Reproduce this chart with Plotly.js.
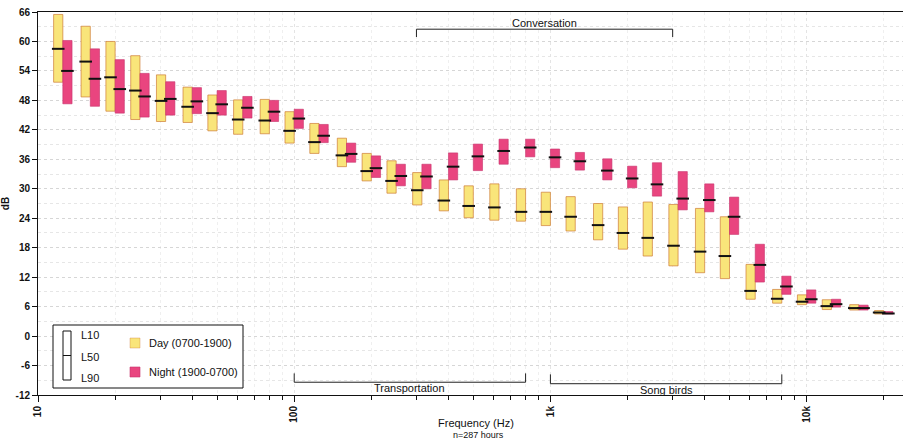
<!DOCTYPE html>
<html>
<head>
<meta charset="utf-8">
<script src="https://cdn.plot.ly/plotly-3.0.1.min.js"></script>
<style>html,body{margin:0;padding:0;background:#fff;}#chart{width:903px;height:441px;}</style>
</head>
<body>
<div id="chart"></div>
<script>
// 1/3-octave band centre frequencies (Hz)
const freqs = [12.5,16,20,25,31.5,40,50,63,80,100,125,160,200,250,315,400,500,630,800,1000,1250,1600,2000,2500,3150,4000,5000,6300,8000,10000,12500,16000,20000];

// Day (0700-1900)
const dayL10 = [65.5,63.1,60.0,57.1,53.2,50.7,49.1,48.1,48.2,45.7,43.3,40.3,37.2,35.7,33.3,31.8,30.6,31.0,30.0,29.3,28.4,27.0,26.3,27.3,26.8,26.0,24.3,14.6,9.5,8.4,7.4,6.4,5.2];
const dayL50 = [58.5,55.9,52.7,50.0,47.9,46.7,45.4,44.1,43.9,41.8,39.5,36.8,33.6,31.6,29.7,27.6,26.5,26.2,25.3,25.3,24.3,22.6,21.0,20.0,18.4,17.2,16.3,9.2,7.6,7.0,6.1,5.7,4.8];
const dayL90 = [51.7,48.7,45.8,44.1,43.7,43.5,41.8,41.1,41.2,39.3,37.2,34.5,31.6,29.1,26.7,25.5,24.1,23.6,23.4,22.5,21.4,19.6,17.7,16.3,14.3,12.9,11.7,7.5,6.7,6.4,5.4,5.3,4.5];

// Night (1900-0700)
const nightL10 = [60.2,58.5,56.3,53.5,51.8,50.6,50.0,48.8,48.0,46.2,43.1,39.3,36.7,35.0,35.0,37.3,39.1,40.1,40.1,38.1,37.4,36.1,34.6,35.3,33.5,31.0,28.3,18.7,12.2,9.4,7.5,6.3,5.0];
const nightL50 = [54.0,52.4,50.3,48.8,48.3,47.8,47.2,46.5,45.7,44.3,40.8,37.1,34.2,32.6,32.5,34.5,36.6,37.7,38.4,36.4,35.6,33.7,32.1,30.9,28.0,27.7,24.3,14.5,10.1,7.5,6.5,5.7,4.6];
const nightL90 = [47.3,46.8,45.4,44.6,45.0,45.3,45.0,44.4,43.7,42.3,39.4,35.4,32.3,30.6,30.0,31.8,33.7,35.0,36.5,34.3,33.8,31.8,30.2,28.5,25.7,25.3,20.7,11.0,8.5,6.7,5.9,5.3,4.5];

// Axis ticks
const majorTickFreqs = [10,100,1000,10000];
const majorTickText = ['10','100','1k','10k'];
const minorTickFreqs = [20,30,40,50,60,70,80,90,200,300,400,500,600,700,800,900,2000,3000,4000,5000,6000,7000,8000,9000,20000];
const yTicks = [-12,-6,0,6,12,18,24,30,36,42,48,54,60,66];
const yTickText = ['-12','-6','0','6','12','18','24','30','36','42','48','54','60','66'];

// Frequency-range brackets
const brackets = [
  {label:'Conversation', f0:300, f1:3000, y:62.5, tip:60.9, side:'top'},
  {label:'Transportation', f0:100, f1:800, y:-9.4, tip:-7.6, side:'bottom'},
  {label:'Song birds', f0:1000, f1:8000, y:-9.7, tip:-7.8, side:'bottom'}
];

const legendDay = 'Day (0700-1900)';
const legendNight = 'Night (1900-0700)';
const xTitle = 'Frequency (Hz)';
const note = 'n=287 hours';

// ---- build ----
const lg = f => Math.log10(f);
const X = freqs.map(lg);
const W = 0.036;      // bar width in decades
const DAY = '#F9E57A', NIGHT = '#E9457F';

const diff = (a,b) => a.map((v,i)=>v-b[i]);

const traces = [
  {type:'bar', x:X, y:diff(dayL10,dayL90), base:dayL90, width:W, offset:-W,
   marker:{color:DAY, line:{color:'rgba(205,120,50,0.85)', width:0.8}}, hoverinfo:'skip', showlegend:false},
  {type:'bar', x:X, y:diff(nightL10,nightL90), base:nightL90, width:W, offset:0,
   marker:{color:NIGHT, line:{color:'#C8326B', width:0.6}}, hoverinfo:'skip', showlegend:false},
  {type:'scatter', mode:'markers', x:X.map(v=>v-W/2), y:dayL50,
   marker:{symbol:'line-ew', size:9, color:'#111', line:{color:'#111', width:2}}, hoverinfo:'skip', showlegend:false},
  {type:'scatter', mode:'markers', x:X.map(v=>v+W/2), y:nightL50,
   marker:{symbol:'line-ew', size:9, color:'#111', line:{color:'#111', width:2}}, hoverinfo:'skip', showlegend:false}
];

// pixel -> paper helpers for the legend block
const L=38, T=12, PW=865, PH=383;
const px = x => (x-L)/PW;
const py = y => (T+PH-y)/PH;

const shapes = [];
const annotations = [];

brackets.forEach(b=>{
  const x0=lg(b.f0), x1=lg(b.f1);
  const ln = {color:'#222', width:1};
  shapes.push({type:'line', xref:'x', yref:'y', x0:x0, x1:x1, y0:b.y, y1:b.y, line:ln});
  shapes.push({type:'line', xref:'x', yref:'y', x0:x0, x1:x0, y0:b.y, y1:b.tip, line:ln});
  shapes.push({type:'line', xref:'x', yref:'y', x0:x1, x1:x1, y0:b.y, y1:b.tip, line:ln});
  annotations.push({xref:'x', yref:'y', x:(x0+x1)/2, y:b.y, text:b.label, showarrow:false,
    xanchor:'center', yanchor: b.side==='top'?'bottom':'top', yshift: b.side==='top'?-2:2,
    font:{family:'Liberation Sans, Arial', size:11, color:'#111'}});
});

// legend block
shapes.push({type:'rect', xref:'paper', yref:'paper', x0:px(53), x1:px(243), y0:py(388), y1:py(325),
  fillcolor:'#fff', line:{color:'#111', width:1}, layer:'above'});
shapes.push({type:'rect', xref:'paper', yref:'paper', x0:px(63), x1:px(71), y0:py(380), y1:py(331),
  fillcolor:'#fff', line:{color:'#111', width:1}, layer:'above'});
shapes.push({type:'line', xref:'paper', yref:'paper', x0:px(63), x1:px(71), y0:py(355.5), y1:py(355.5),
  line:{color:'#111', width:1}, layer:'above'});
shapes.push({type:'rect', xref:'paper', yref:'paper', x0:px(130), x1:px(140), y0:py(348), y1:py(338),
  fillcolor:DAY, line:{color:'rgba(205,120,50,0.6)', width:0.6}, layer:'above'});
shapes.push({type:'rect', xref:'paper', yref:'paper', x0:px(130), x1:px(140), y0:py(377), y1:py(367),
  fillcolor:NIGHT, line:{color:'#C8326B', width:0.6}, layer:'above'});

const lf = {family:'Liberation Sans, Arial', size:11, color:'#111'};
[['L10',335],['L50',356.5],['L90',377.5]].forEach(([t,y])=>{
  annotations.push({xref:'paper', yref:'paper', x:px(79), y:py(y), text:t, showarrow:false, xanchor:'left', yanchor:'middle', font:lf});
});
annotations.push({xref:'paper', yref:'paper', x:px(147), y:py(343), text:legendDay, showarrow:false, xanchor:'left', yanchor:'middle', font:lf});
annotations.push({xref:'paper', yref:'paper', x:px(147), y:py(372), text:legendNight, showarrow:false, xanchor:'left', yanchor:'middle', font:lf});
annotations.push({xref:'paper', yref:'paper', x:px(476), y:py(423), text:xTitle, showarrow:false, xanchor:'center', yanchor:'middle', font:{family:'Liberation Sans, Arial', size:11, color:'#111'}});
annotations.push({xref:'paper', yref:'paper', x:px(478), y:py(435.5), text:note, showarrow:false, xanchor:'center', yanchor:'middle', font:{family:'Liberation Sans, Arial', size:9, color:'#111'}});

const tickFont = {family:'Liberation Sans, Arial', size:10, color:'#111', weight:'bold'};

const layout = {
  width:903, height:441,
  margin:{l:L, r:0, t:T, b:441-T-PH, pad:0},
  paper_bgcolor:'#fff', plot_bgcolor:'#fff',
  barmode:'overlay', bargap:0,
  showlegend:false,
  xaxis:{
    type:'linear', range:[1, 1+ (903-37.7)/256.3],
    tickmode:'array', tickvals:majorTickFreqs.map(lg), ticktext:majorTickText,
    tickangle:-90, tickfont:tickFont, ticks:'outside', ticklen:6, tickcolor:'#111',
    showline:true, linecolor:'#111', linewidth:1, mirror:true,
    showgrid:true, gridcolor:'#e4e4e4', griddash:'dot', gridwidth:1,
    minor:{tickmode:'array', tickvals:minorTickFreqs.map(lg), ticks:'outside', ticklen:4, tickcolor:'#111',
           showgrid:true, gridcolor:'#efefef', griddash:'dot'},
    zeroline:false
  },
  yaxis:{
    range:[-12,66], tickmode:'array', tickvals:yTicks, ticktext:yTickText,
    tickfont:tickFont, ticks:'outside', ticklen:5, tickcolor:'#111',
    showline:true, linecolor:'#111', linewidth:1,
    showgrid:true, gridcolor:'#d6d6d6', griddash:'dot', gridwidth:1,
    minor:{dtick:3, tick0:0, showgrid:true, gridcolor:'#e6e6e6', griddash:'dot', ticks:''},
    zeroline:false,
    title:{text:'dB', font:{family:'Liberation Sans, Arial', size:10, color:'#111', weight:'bold'}, standoff:8}
  },
  shapes:shapes,
  annotations:annotations
};

Plotly.newPlot('chart', traces, layout, {staticPlot:true, displayModeBar:false});
</script>
</body>
</html>
